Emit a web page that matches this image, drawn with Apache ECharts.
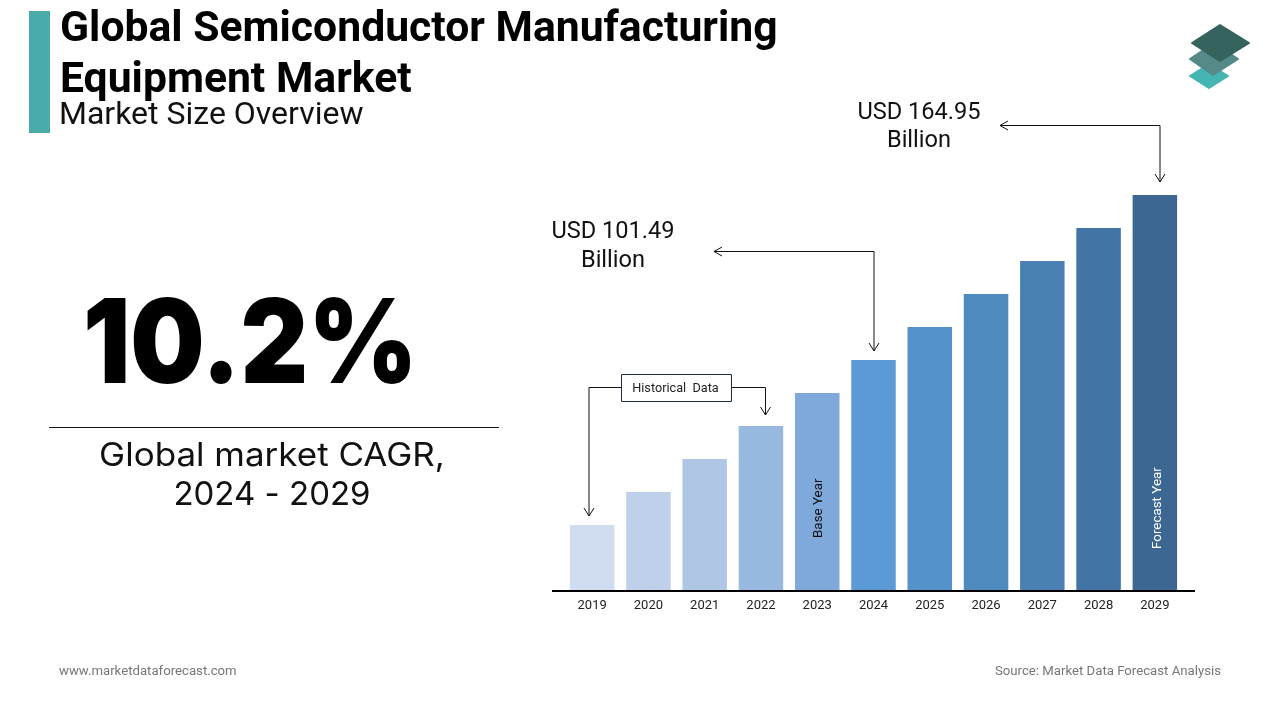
<!DOCTYPE html>
<html>
<head>
<meta charset="utf-8">
<title>Global Semiconductor Manufacturing Equipment Market</title>
<script src="https://cdn.jsdelivr.net/npm/echarts@6/dist/echarts.min.js"></script>
<style>
html,body{margin:0;padding:0;background:#fff;}
#chart{width:1280px;height:720px;}
</style>
</head>
<body>
<div id="chart"></div>
<script>
var years = ['2019','2020','2021','2022','2023','2024','2025','2026','2027','2028','2029'];
var marketSize = [27.1,40.9,54.7,68.5,82.3,96.0,109.8,123.6,137.4,151.2,164.95];
var barColors = ['#d0ddf0','#bfd1ea','#afc6e5','#98b9df','#7ea9da','#5b9ad6','#5392cb','#4f8abf','#4b80b4','#4275a5','#3b6792'];
var insideLabels = {'2023':'Base Year','2029':'Forecast Year'};

function text(s,x,y,font,fill,align){
	return {type:'text',silent:true,style:{text:s,x:x,y:y,font:font,fill:fill,textAlign:align||'left',textVerticalAlign:'middle'}};
}
// text stretched sideways around its anchor
function wideText(s,x,y,font,fill,align,scaleX){
	var t = text(s,0,0,font,fill,align);
	t.x = x;
	t.y = y;
	t.scaleX = scaleX;
	return t;
}
function path(points,color){
	return {type:'polyline',silent:true,shape:{points:points},style:{stroke:color||'#111',lineWidth:1,fill:null}};
}
function diamond(points,color){
	return {type:'polygon',silent:true,shape:{points:points},style:{fill:color,stroke:color,lineWidth:2,lineJoin:'round'}};
}

var barData = years.map(function(y,i){
	var item = {value:marketSize[i],itemStyle:{color:barColors[i]}};
	if(insideLabels[y]){
		item.label = {
			show:true,formatter:insideLabels[y],position:'insideBottom',rotate:90,
			align:'left',verticalAlign:'middle',
			// the offset turns with the label: its second value moves the text sideways
			distance:y=='2023'?52:41,offset:[0,y=='2023'?1:3],
			fontFamily:'Roboto',fontSize:13.4,color:y=='2023'?'#111':'#fff'
		};
	}
	return item;
});

var chart = echarts.init(document.getElementById('chart'));
chart.setOption({
	animation:false,
	backgroundColor:'#fff',
	grid:{left:564,top:195,width:619,height:395},
	xAxis:{
		type:'category',data:years,
		axisLine:{show:false},axisTick:{show:false},
		axisLabel:{fontFamily:'Roboto',fontSize:13,color:'#222',margin:9}
	},
	yAxis:{type:'value',min:0,max:164.95,show:false,splitLine:{show:false}},
	series:[{type:'bar',data:barData,barWidth:44.5}],
	graphic:[
		{type:'rect',silent:true,shape:{x:29,y:11,width:21,height:122},style:{fill:'#4aabab'}},
		text('Global Semiconductor Manufacturing',60,30,'bold 42.7px Roboto','#000'),
		text('Equipment Market',60,81,'bold 42.7px Roboto','#000'),
		text('Market Size Overview',59,116,'32px Roboto','#111'),

		wideText('10.2%',83,347.5,'900 117px Inter','#000','left',0.895),
		{type:'line',silent:true,shape:{x1:49,y1:427.5,x2:499,y2:427.5},style:{stroke:'#111',lineWidth:1}},
		wideText('Global market CAGR,',272,456,'33px Inter','#111','center',1.06),
		text('2024 - 2029',272,495,'33px Inter','#111','center'),

		// axis baseline runs wider than the bars
		{type:'line',silent:true,shape:{x1:552,y1:591,x2:1195,y2:591},style:{stroke:'#000',lineWidth:2}},

		text('USD 164.95',919,113,'23.6px Roboto','#111','center'),
		text('Billion',919,141,'23.6px Roboto','#111','center'),
		path([[1000,125.5],[1160,125.5],[1160,182]]),
		path([[1008,121],[1000,125.5],[1008,130]]),
		path([[1155,174],[1160,182],[1165,174]]),

		text('USD 101.49',613,232,'23.6px Roboto','#111','center'),
		text('Billion',613,261,'23.6px Roboto','#111','center'),
		path([[714,251.5],[874,251.5],[874,351]]),
		path([[722,247],[714,251.5],[722,256]]),
		path([[869,343],[874,351],[879,343]]),

		path([[621,387.5],[589,387.5],[589,516]]),
		path([[584,508],[589,516],[594,508]]),
		path([[731,387.5],[765.5,387.5],[765.5,415]]),
		path([[760.5,407],[765.5,415],[770.5,407]]),
		{type:'rect',silent:true,shape:{x:621.5,y:374.5,width:110,height:27},style:{fill:'#fff',stroke:'#1f2d3d',lineWidth:1}},
		text('Historical  Data',675.5,388.5,'12.7px Roboto','#222','center'),

		text('www.marketdataforecast.com',59,672,'13.2px Roboto','#777'),
		text('Source: Market Data Forecast Analysis',1221,672,'13.2px Roboto','#777','right'),

		diamond([[1209,64],[1228,76],[1209,88],[1190,76]],'#45b5b3'),
		diamond([[1214,43],[1238,59],[1213,75],[1190,59]],'#55898a'),
		diamond([[1220,25],[1249,43],[1220,61],[1192,43]],'#35635e')
	]
});
</script>
</body>
</html>
